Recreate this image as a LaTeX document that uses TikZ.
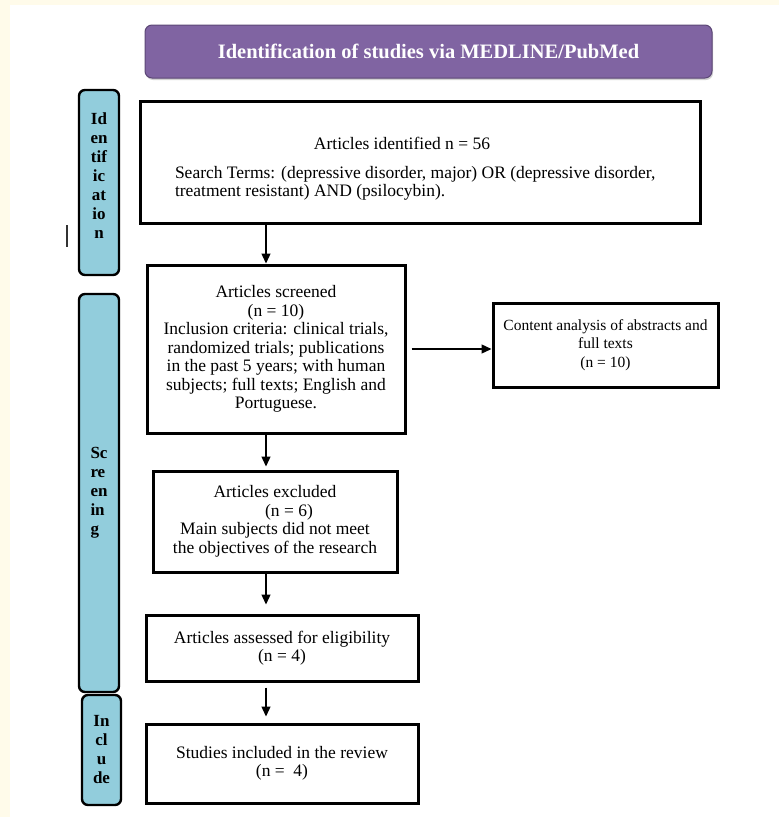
\documentclass[tikz,border=0pt]{standalone}
\usepackage{fontspec}
\setmainfont{Liberation Serif}
\usetikzlibrary{arrows.meta,positioning,shadows}
\definecolor{headpurple}{RGB}{128,100,162}
\definecolor{headedge}{RGB}{92,71,118}
\definecolor{phaseblue}{RGB}{146,205,220}
\definecolor{pagecream}{RGB}{255,251,234}

\begin{document}
\begin{tikzpicture}[x=1pt,y=-1pt,
    box/.style={rectangle,draw=black,line width=3pt,fill=white,align=center,
      inner sep=0pt,font=\fontsize{17.5}{18.5}\selectfont},
    phase/.style={rectangle,rounded corners=6pt,draw=black,line width=2.4pt,fill=phaseblue,
      inner sep=0pt,minimum width=40pt,align=center,font=\fontsize{17}{19}\selectfont\bfseries},
    header/.style={rectangle,rounded corners=7pt,draw=headedge,line width=1pt,fill=headpurple,
      text=white,font=\fontsize{20.5}{22}\selectfont\bfseries,
      drop shadow={shadow xshift=1pt,shadow yshift=-2pt,opacity=0.35}},
    arrow/.style={-{Triangle[length=10pt,width=9pt]},line width=1.3pt}]
  \useasboundingbox (0,0) rectangle (779,817);
  \fill[pagecream] (0,0) rectangle (779,817);
  \fill[white] (10,5) rectangle (779,817);

  \node[header,minimum width=567pt,minimum height=53pt] (title) at (428.5,51.5)
    {Identification of studies via MEDLINE/PubMed};

  % phase bars
  \node[phase,minimum height=185pt] (pident) at (99,182.5) {Id\\en\\tif\\ic\\at\\io\\n\\[-5pt]};
  \node[phase,minimum height=398pt,align=left] (pscreen) at (99,493) {Sc\\re\\en\\in\\g};
  \node[phase,minimum width=39pt,minimum height=110pt] (pincl) at (101.5,750) {In\\cl\\u\\de};
  \draw[line width=1.5pt,black!80] (67,225) -- (67,247);

  % boxes
  \node[box,minimum width=560pt,minimum height=122pt] (ident) at (420,162)
    {\rule{0pt}{26pt}Articles identified n = 56\hspace*{36pt}\\[10pt]
     \parbox[t]{490pt}{\raggedright Search Terms: (depressive disorder, major) OR (depressive disorder,\\
     treatment resistant) AND (psilocybin).}};
  \node[box,minimum width=258pt,minimum height=168pt] (screen) at (276,349)
    {Articles screened\\(n = 10)\\Inclusion criteria: clinical trials,\\randomized trials; publications\\
     in the past 5 years; with human\\subjects; full texts; English and\\Portuguese.};
  \node[box,minimum width=225pt,minimum height=84pt,font=\fontsize{15.5}{18.5}\selectfont] (content)
    at (605.5,345) {Content analysis of abstracts and\\full texts\\(n = 10)};
  \node[box,minimum width=244pt,minimum height=101pt] (excl) at (275,521.5)
    {Articles excluded\\\hspace*{28pt}(n = 6)\\Main subjects did not meet\\the objectives of the research};
  \node[box,minimum width=272pt,minimum height=66pt] (elig) at (282,648)
    {Articles assessed for eligibility\\(n = 4)};
  \node[box,minimum width=272pt,minimum height=79pt] (incl) at (282,763.5)
    {Studies included in the review\\(n = \ 4)};

  % connectors
  \coordinate (spine) at (266,0);
  \draw[arrow] (ident.south -| spine) -- (screen.north -| spine);
  \draw[arrow,shorten >=3pt] (screen.south -| spine) -- (excl.north -| spine);
  \draw[arrow,shorten >=9pt] (excl.south -| spine) -- (elig.north -| spine);
  \draw[arrow,shorten <=5pt,shorten >=6pt] (elig.south -| spine) -- (incl.north -| spine);
  \draw[arrow,shorten <=5pt] (screen.east) -- (screen.east -| content.west);
\end{tikzpicture}
\end{document}
